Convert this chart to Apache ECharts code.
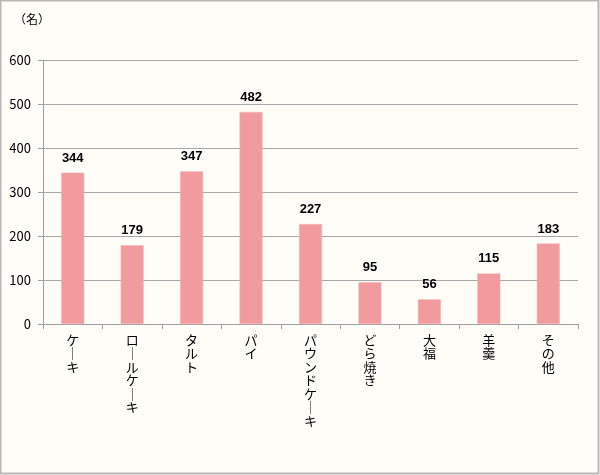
<!DOCTYPE html>
<html><head><meta charset="utf-8">
<script src="https://cdn.jsdelivr.net/npm/echarts@6/dist/echarts.min.js"></script>
<style>html,body{margin:0;padding:0;background:#fffdf7}#c{width:600px;height:475px}</style>
</head><body><div id="c"></div>
<script>
const categories = ['ケーキ','ロールケーキ','タルト','パイ','パウンドケーキ','どら焼き','大福','羊羹','その他'];
const values = [344,179,347,482,227,95,56,115,183];
const yTicks = {min:0, max:600, interval:100};
const unitLabel = '（名）';

const font = '"Noto Sans CJK JP",sans-serif';
const chart = echarts.init(document.getElementById('c'));
chart.setOption({
  backgroundColor:'#fffdf7',
  animation:false,
  graphic:[
    {type:'rect',shape:{x:0.5,y:0.5,width:598,height:473},style:{fill:'none',stroke:'#b8b8b8',lineWidth:2},silent:true},
    {type:'text',left:14,top:13,style:{text:unitLabel,font:'12px '+font,fill:'#000'}}
  ],
  grid:{left:43,right:22,top:60,bottom:151},
  xAxis:{type:'category',data:categories,
    axisLine:{lineStyle:{color:'#a0a0a0',width:1}},
    axisTick:{show:true,length:5,lineStyle:{color:'#a0a0a0'}},
    axisLabel:{interval:0,margin:9,color:'#000',fontSize:13,fontFamily:font,lineHeight:13.5,verticalAlign:'top',
      formatter:v=>v.split('').map(ch=>ch==='ー'?'│':ch).join('\n')}
  },
  yAxis:{type:'value',min:yTicks.min,max:yTicks.max,interval:yTicks.interval,
    axisLine:{show:true,lineStyle:{color:'#a0a0a0'}},
    axisTick:{show:true,length:5,lineStyle:{color:'#a0a0a0'}},
    splitLine:{lineStyle:{color:'#a8a8a8',width:1}},
    axisLabel:{color:'#000',fontSize:13,fontFamily:font,margin:12}
  },
  series:[{type:'bar',data:values,barWidth:23,
    itemStyle:{color:'#f29b9f',borderColor:'#f6b5b8',borderWidth:0.5},
    label:{show:true,position:'top',distance:8,fontWeight:'bold',fontSize:13,color:'#000',fontFamily:'"Liberation Sans",sans-serif'}
  }]
});
</script></body></html>
